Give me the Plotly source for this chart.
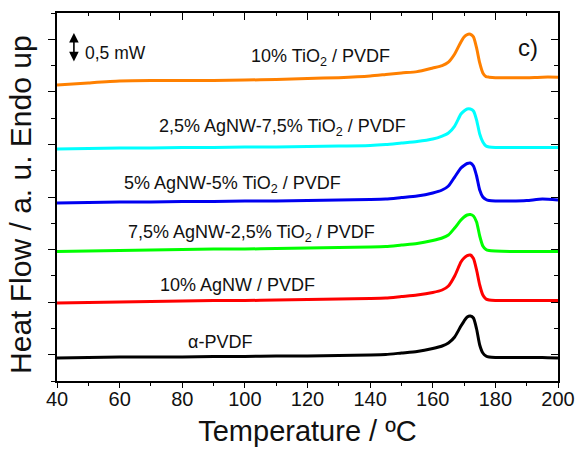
import plotly.graph_objects as go

temperature = [40, 50, 60, 70, 80, 90, 100, 110, 120, 130, 140, 145, 150, 155, 160, 163, 165,
               167, 169, 170, 171, 172, 173, 174, 175, 176, 177, 178, 180, 185, 190, 195, 200]

tio2_10 = [11.26, 11.34, 11.41, 11.43, 11.43, 11.43, 11.45, 11.47, 11.51, 11.54, 11.60, 11.66, 11.72,
           11.77, 11.91, 12.00, 12.13, 12.44, 12.90, 13.09, 13.18, 13.19, 13.09, 12.67, 12.10, 11.72,
           11.58, 11.56, 11.54, 11.54, 11.54, 11.56, 11.56]
agnw25_tio275 = [8.825, 8.844, 8.863, 8.863, 8.882, 8.882, 8.901, 8.901, 8.920, 8.939, 8.958, 8.996, 9.054,
                 9.111, 9.206, 9.320, 9.434, 9.700, 10.157, 10.271, 10.347, 10.347, 10.271, 9.928, 9.396,
                 9.092, 8.939, 8.901, 8.882, 8.882, 8.882, 8.882, 8.882]
agnw5_tio25 = [6.771, 6.790, 6.809, 6.809, 6.828, 6.828, 6.847, 6.847, 6.866, 6.885, 6.904, 6.923, 6.980,
               7.037, 7.152, 7.266, 7.418, 7.760, 8.103, 8.198, 8.274, 8.293, 8.179, 7.799, 7.266, 7.000,
               6.904, 6.866, 6.847, 6.847, 6.866, 6.923, 6.885]
agnw75_tio225 = [4.926, 4.945, 4.964, 4.983, 5.002, 5.021, 5.021, 5.040, 5.059, 5.078, 5.097, 5.116, 5.173,
                 5.230, 5.345, 5.440, 5.554, 5.820, 6.124, 6.239, 6.315, 6.334, 6.277, 6.049, 5.516, 5.135,
                 5.002, 4.964, 4.945, 4.926, 4.926, 4.926, 4.926]
agnw_10 = [2.967, 2.986, 3.005, 3.024, 3.043, 3.062, 3.062, 3.081, 3.100, 3.119, 3.138, 3.157, 3.214,
           3.271, 3.367, 3.462, 3.614, 3.994, 4.527, 4.679, 4.774, 4.793, 4.660, 4.222, 3.652, 3.271,
           3.119, 3.081, 3.062, 3.062, 3.062, 3.062, 3.062]
alpha_pvdf = [0.875, 0.894, 0.913, 0.913, 0.913, 0.932, 0.932, 0.951, 0.951, 0.970, 0.989, 1.008, 1.065,
              1.122, 1.236, 1.331, 1.446, 1.674, 2.092, 2.282, 2.435, 2.473, 2.397, 1.978, 1.370, 1.065,
              0.951, 0.913, 0.894, 0.894, 0.894, 0.894, 0.875]

series = [
    ("10% TiO<sub>2</sub> / PVDF", tio2_10, "#FF8000", 124.3, 12.29),
    ("2,5% AgNW-7,5% TiO<sub>2</sub> / PVDF", agnw25_tio275, "#00FFFF", 111.9, 9.66),
    ("5% AgNW-5% TiO<sub>2</sub> / PVDF", agnw5_tio25, "#0000F0", 95.9, 7.49),
    ("7,5% AgNW-2,5% TiO<sub>2</sub> / PVDF", agnw75_tio225, "#00FF00", 102.0, 5.63),
    ("10% AgNW / PVDF", agnw_10, "#FF0000", 97.5, 3.65),
    ("α-PVDF", alpha_pvdf, "#000000", 92.1, 1.48),
]

FONT = "Liberation Sans, Arial, sans-serif"

fig = go.Figure()
annotations = []
for name, vals, color, lx, ly in series:
    fig.add_trace(go.Scatter(x=temperature, y=vals, mode="lines", name=name,
                             line=dict(color=color, width=3, shape="spline", smoothing=0.6),
                             showlegend=False, hoverinfo="skip"))
    annotations.append(dict(x=lx, y=ly, xref="x", yref="y", text=name, showarrow=False,
                            font=dict(family=FONT, size=18, color="#111111"),
                            xanchor="center", yanchor="middle"))

# dummy trace so the mirror axes are drawn
fig.add_trace(go.Scatter(x=[None], y=[None], xaxis="x2", yaxis="y2", showlegend=False,
                         hoverinfo="skip"))

annotations += [
    dict(x=48.3, y=12.48, xref="x", yref="y", text="0,5 mW", showarrow=False,
         font=dict(family=FONT, size=17.5, color="#111111"), xanchor="left", yanchor="middle"),
    dict(x=190.4, y=12.67, xref="x", yref="y", text="c)", showarrow=False,
         font=dict(family=FONT, size=24, color="#111111"), xanchor="center", yanchor="middle"),
    dict(x=45.4, y=13.24, ax=45.4, ay=12.10, xref="x", yref="y", axref="x", ayref="y",
         text="", showarrow=True, arrowhead=2, startarrowhead=2, arrowside="end+start",
         arrowsize=1.2, arrowwidth=1.6, arrowcolor="#000000"),
    dict(x=-0.072, y=0.481, xref="paper", yref="paper", text="Heat Flow / a. u. Endo up",
         textangle=-90, showarrow=False, xanchor="center", yanchor="middle",
         font=dict(family=FONT, size=30, color="#111111")),
]

xmin, xmax = 40, 200
ymin, ymax = 0, 14

fig.update_layout(
    width=577, height=459,
    margin=dict(l=57, r=19, t=13, b=78, autoexpand=False),
    paper_bgcolor="white", plot_bgcolor="white",
    font=dict(family=FONT, color="#111111"),
    annotations=annotations,
    xaxis=dict(range=[xmin, xmax], dtick=20, tick0=40, showgrid=False, zeroline=False,
               automargin=False,
               showline=True, linecolor="black", linewidth=1.5,
               ticks="outside", ticklen=5, tickwidth=1.2, tickcolor="black",
               ticklabelstandoff=-6,
               minor=dict(dtick=10, ticks="outside", ticklen=3, tickwidth=1.2, tickcolor="black"),
               tickfont=dict(size=20, family=FONT, color="#111111"),
               title=dict(text="Temperature / ºC", font=dict(size=29, family=FONT, color="#111111"),
                          standoff=12)),
    yaxis=dict(range=[ymin, ymax], tick0=1, dtick=2, showgrid=False, zeroline=False,
               automargin=False,
               showline=True, linecolor="black", linewidth=1.5, showticklabels=False,
               ticks="outside", ticklen=7, tickwidth=1.2, tickcolor="black",
               minor=dict(dtick=1, ticks="outside", ticklen=4, tickwidth=1.2, tickcolor="black")),
    xaxis2=dict(range=[xmin, xmax], overlaying="x", side="top", dtick=20, tick0=40,
                automargin=False,
                showgrid=False, zeroline=False, showticklabels=False,
                showline=True, linecolor="black", linewidth=1.5,
                ticks="inside", ticklen=7, tickwidth=1.2, tickcolor="black",
                minor=dict(dtick=10, ticks="inside", ticklen=3, tickwidth=1.2, tickcolor="black")),
    yaxis2=dict(range=[ymin, ymax], overlaying="y", side="right", tick0=1, dtick=2,
                automargin=False,
                showgrid=False, zeroline=False, showticklabels=False,
                showline=True, linecolor="black", linewidth=1.5,
                ticks="inside", ticklen=7, tickwidth=1.2, tickcolor="black",
                minor=dict(dtick=1, ticks="inside", ticklen=4, tickwidth=1.2, tickcolor="black")),
)

fig.write_html("out.html")
